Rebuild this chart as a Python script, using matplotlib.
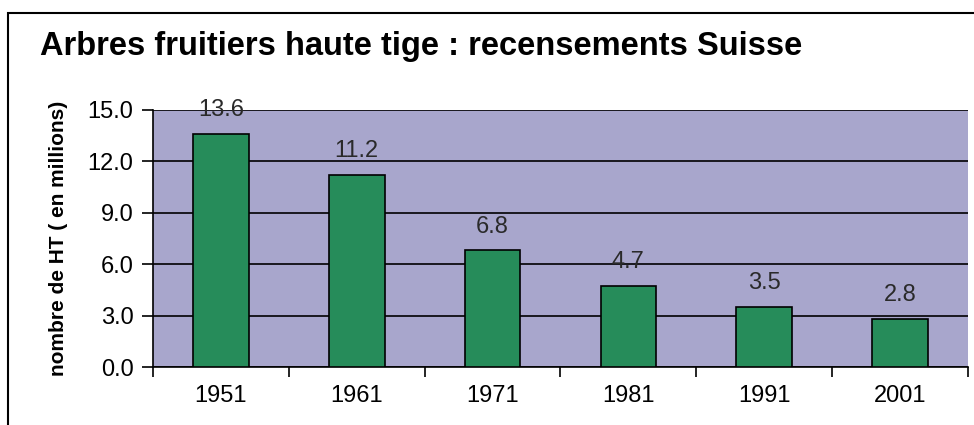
import numpy as np
import matplotlib.pyplot as plt
from matplotlib.patches import Rectangle

plt.rcParams['font.family'] = ['Liberation Sans', 'DejaVu Sans']

# data
years = ['1951', '1961', '1971', '1981', '1991', '2001']
values = [13.6, 11.2, 6.8, 4.7, 3.5, 2.8]
yticks = [0.0, 3.0, 6.0, 9.0, 12.0, 15.0]

fig = plt.figure(figsize=(9.74, 4.25), dpi=100)

# outer frame of the chart
fig.patches.append(Rectangle((8 / 974, -0.1), 1.2, 1 - 13 / 425 + 0.1,
                             transform=fig.transFigure, fill=False,
                             edgecolor='black', linewidth=1.5))

ax = fig.add_axes([153 / 974, 1 - 367 / 425, 815 / 974, 257 / 425])
ax.set_facecolor('#A8A6CC')

x = np.arange(len(years))
ax.bar(x, values, width=0.41, color='#268C5A', edgecolor='black', linewidth=1.2, zorder=3)

for xi, v in zip(x, values):
    ax.text(xi, v + 1.4, '%.1f' % v, ha='center', va='center', fontsize=17, color='#2a2a2a', zorder=4)

ax.set_xlim(-0.5, len(years) - 0.5)
ax.set_ylim(0, 15)
ax.set_yticks(yticks)
ax.set_yticklabels(['%.1f' % t for t in yticks], fontsize=17)
ax.yaxis.grid(True, color='black', linewidth=1.2, zorder=1)
ax.set_axisbelow(True)

ax.set_xticks(x)
ax.set_xticklabels(years, fontsize=17)
ax.tick_params(axis='x', length=0, pad=13)
ax.set_xticks(np.arange(-0.5, len(years)), minor=True)
ax.tick_params(axis='x', which='minor', length=7, width=1.2, direction='out')
ax.tick_params(axis='y', length=8, width=1.2, direction='out', pad=6)

for s in ['top', 'right']:
    ax.spines[s].set_visible(False)
for s in ['left', 'bottom']:
    ax.spines[s].set_linewidth(1.2)

ax.set_ylabel('nombre de HT ( en millions)', fontsize=15, fontweight='bold', labelpad=14)

fig.text(40 / 974, 1 - 46 / 425, 'Arbres fruitiers haute tige : recensements Suisse',
         fontsize=23.5, fontweight='bold', ha='left', va='center')

fig.savefig('out.png', dpi=100)
